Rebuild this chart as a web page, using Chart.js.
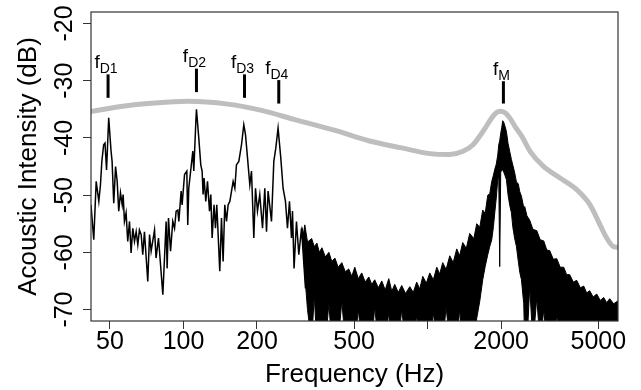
<!DOCTYPE html>
<html>
<head>
<meta charset="utf-8">
<script src="https://cdn.jsdelivr.net/npm/chart.js@4.4.1/dist/chart.umd.min.js"></script>
<style>
  html, body { margin: 0; padding: 0; background: #fff; }
  canvas { display: block; }
</style>
</head>
<body>
<canvas id="chart" width="641" height="390"></canvas>
<script>
// 軸の目盛り
const xTicks = [50, 100, 200, 500, 1000, 2000, 5000];
const xTickLabels = ["50", "100", "200", "500", "", "2000", "5000"];
const yTicks = [-20, -30, -40, -50, -60, -70];

// 低域のスペクトル（まばらな部分）
const specFreq = [41.8,42.9,43.9,45.0,45.7,46.3,47.1,47.7,48.4,49.4,
  50.5,51.0,51.8,52.7,53.5,54.3,55.2,56.1,56.6,57.3,
  58.2,59.1,60.1,61.0,62.0,63.0,64.0,65.0,66.0,67.1,
  68.1,69.2,71.4,72.6,73.7,76.1,77.2,79.0,82.3,84.9,
  85.7,86.8,88.5,90.4,91.9,93.3,94.8,95.7,97.8,98.7,
  101.0,103.2,104.1,105.1,109.2,110.2,112.4,113.0,115.5,117.7,
  119.2,120.3,121.4,123.4,125.4,127.8,129.4,131.0,133.4,135.2,
  136.9,140.8,143.1,145.3,147.6,150.0,152.3,154.8,157.3,159.7,
  162.3,164.8,168.5,172.8,176.6,179.4,182.9,186.9,189.9,194.1,
  197.2,200.9,205.3,210.7,215.3,218.8,222.1,229.3,234.4,238.8,
  244.0,250.3,255.8,261.6,266.6,271.7,276.9,279.5,283.7,290.2,
  296.7,304.3,316.0];
const specDb = [-51.7,-57.8,-47.6,-51.1,-48.2,-44.1,-41.2,-40.9,-45.6,-36.5,
  -42.3,-44.1,-51.4,-45.0,-47.6,-52.8,-49.6,-51.7,-49.9,-54.6,
  -53.1,-58.1,-54.6,-60.1,-55.8,-58.1,-56.4,-58.7,-56.1,-56.9,
  -60.4,-56.4,-65.1,-56.9,-59.8,-56.1,-61.0,-57.5,-67.4,-54.6,
  -62.8,-54.0,-59.8,-54.6,-55.8,-52.8,-52.6,-54.6,-49.3,-51.7,
  -46.4,-45.8,-55.2,-48.8,-42.3,-45.8,-37.0,-35.0,-40.0,-44.7,
  -45.8,-49.9,-47.0,-51.1,-47.6,-52.8,-49.9,-57.5,-51.7,-55.8,
  -51.7,-63.3,-54.0,-61.6,-51.7,-54.6,-51.7,-51.1,-49.3,-47.6,
  -48.8,-44.7,-44.1,-41.2,-37.7,-39.4,-43.5,-48.2,-45.8,-57.5,
  -48.8,-52.8,-49.9,-55.8,-48.8,-56.4,-49.3,-54.6,-44.1,-41.8,
  -38.3,-43.5,-48.8,-51.1,-55.8,-51.1,-57.5,-52.8,-62.8,-54.6,
  -60.4,-55.8,-66.3];

// 高域の密な部分（上端と下端）
const bandFreq = [305,310,314,322,335,343,352,360,369,381,
  394,405,417,430,445,460,475,489,503,520,
  537,555,574,590,607,628,649,670,693,713,
  733,758,783,812,845,873,902,928,955,988,
  1020,1055,1090,1120,1153,1190,1232,1272,1316,1352,
  1392,1440,1487,1545,1589,1635,1681,1720,1763,1796,
  1830,1860,1883,1910,1937,1955,1973,1992,2011,2030,
  2050,2075,2102,2135,2169,2204,2231,2270,2310,2350,
  2384,2422,2475,2498,2550,2619,2700,2798,2890,2989,
  3075,3162,3270,3379,3490,3608,3710,3818,3950,4079,
  4220,4358,4480,4611,4760,4927,5090,5262,5410,5568,
  5780,6005,6100];
const bandTop = [-55.5,-56.8,-55.2,-58.2,-57.6,-59.0,-58.4,-60.0,-59.2,-60.8,
  -60.0,-61.6,-61.0,-62.6,-61.8,-63.4,-62.9,-64.2,-62.6,-64.6,
  -63.6,-65.2,-64.3,-65.6,-64.8,-66.2,-65.0,-66.6,-64.6,-66.8,
  -65.6,-67.0,-65.8,-67.2,-66.0,-67.0,-65.2,-66.4,-64.2,-65.4,
  -63.6,-64.8,-62.6,-63.8,-61.8,-63.0,-60.6,-61.8,-59.4,-60.6,
  -58.3,-59.3,-56.7,-57.6,-55.0,-55.6,-52.6,-53.2,-50.0,-49.8,
  -47.6,-46.5,-45.5,-44.6,-43.0,-41.2,-40.5,-39.2,-38.2,-37.0,
  -37.3,-38.0,-38.9,-41.0,-42.4,-43.8,-44.7,-46.0,-47.7,-48.0,
  -49.4,-50.2,-52.2,-52.0,-53.6,-54.4,-56.0,-56.2,-57.8,-58.0,
  -59.6,-59.7,-61.2,-61.1,-62.6,-62.6,-63.9,-63.9,-65.2,-64.9,
  -66.2,-65.9,-67.1,-66.7,-67.8,-67.3,-68.4,-67.9,-68.8,-68.1,
  -69.0,-68.5,-69.2];
const bandBottom = [-56.5,-60,-64,-70,-76,-67.5,-76,-76,-76,-76,
  -69,-76,-76,-76,-68.5,-76,-76,-76,-76,-70,
  -76,-76,-76,-76,-69.5,-76,-76,-76,-70.5,-76,
  -76,-76,-70,-76,-76,-76,-71,-76,-76,-76,
  -76,-70.5,-76,-76,-76,-69.5,-76,-76,-76,-70,
  -76,-76,-76,-76,-71.5,-68.5,-64.8,-62.5,-60.4,-59.0,
  -57.8,-55.5,-53.1,-50.5,-47.3,-46.5,-62.5,-46.0,-45.6,-45.6,
  -46.0,-46.6,-47.3,-50.0,-51.8,-53.1,-55.5,-57.5,-59.0,-61.5,
  -63.5,-64.8,-69.0,-76,-76,-66,-76,-68,-76,-70,
  -76,-76,-76,-71,-76,-76,-76,-76,-76,-76,
  -76,-76,-76,-76,-76,-76,-76,-76,-76,-76,
  -76,-76,-76];

// 灰色の包絡線
const grayFreq = [41.8,55.5,76.1,104.1,151.9,208.7,285.6,417.8,572.3,783.4,
  1020,1232,1396,1534,1687,1853,1925,2005,2087,2169,
  2310,2428,2627,2981,3485,4079,4624,5082,5413,5767,6020];
const grayDb = [-35.4,-34.5,-33.9,-33.6,-34.1,-35.2,-36.8,-38.7,-40.5,-41.75,
  -42.75,-42.9,-42.35,-41.2,-38.85,-36.2,-35.5,-35.35,-35.7,-36.5,
  -38.4,-39.7,-42.35,-44.97,-47.0,-49.05,-51.7,-55.2,-57.5,-59.0,-59.1];

// ピークの注記
const markSub = ["D1", "D2", "D3", "D4", "M"];
const markFreq = [49.1, 113.0, 177.8, 245.6, 2043];
const markTop = [-28.9, -27.9, -28.9, -29.9, -30.1];
const markBottom = [-33.0, -32.0, -33.0, -34.0, -34.0];

const FONT = '"Liberation Sans", Arial, Helvetica, sans-serif';

const toPoints = (xs, ys) => xs.map((x, i) => ({ x: x, y: ys[i] }));

// 枠・Y軸ラベル・タイトル・注記を描く
const overlay = {
  id: "overlay",
  afterDraw(chart) {
    const { ctx, chartArea: a, scales } = chart;
    const xs = scales.x, ys = scales.y;
    ctx.save();

    ctx.strokeStyle = "#333";
    ctx.lineWidth = 1.2;
    ctx.strokeRect(a.left, a.top, a.right - a.left, a.bottom - a.top);

    ctx.fillStyle = "#000";
    ctx.font = "25px " + FONT;
    ctx.textAlign = "center";
    ctx.textBaseline = "alphabetic";
    yTicks.forEach(v => {
      ctx.save();
      ctx.translate(71.5, ys.getPixelForValue(v));
      ctx.rotate(-Math.PI / 2);
      ctx.fillText(String(v), 0, 0);
      ctx.restore();
    });

    ctx.font = "26px " + FONT;
    ctx.save();
    ctx.translate(35.5, (a.top + a.bottom) / 2);
    ctx.rotate(-Math.PI / 2);
    ctx.fillText("Acoustic Intensity (dB)", 0, 0);
    ctx.restore();
    ctx.fillText("Frequency (Hz)", (a.left + a.right) / 2, 382);

    // 注記の縦線とラベル
    markFreq.forEach((f, i) => {
      const px = xs.getPixelForValue(f);
      const y1 = ys.getPixelForValue(markTop[i]);
      const y2 = ys.getPixelForValue(markBottom[i]);
      ctx.strokeStyle = "#000";
      ctx.lineWidth = 3;
      ctx.beginPath();
      ctx.moveTo(px, y1);
      ctx.lineTo(px, y2);
      ctx.stroke();

      ctx.textAlign = "left";
      ctx.font = "19px " + FONT;
      const wf = ctx.measureText("f").width;
      ctx.font = "14px " + FONT;
      const ws = ctx.measureText(markSub[i]).width;
      const x0 = px - 2 - (wf + ws) / 2;
      const base = y1 - 6.5;
      ctx.font = "19px " + FONT;
      ctx.fillText("f", x0, base);
      ctx.font = "14px " + FONT;
      ctx.fillText(markSub[i], x0 + wf, base + 5);
    });

    ctx.restore();
  }
};

new Chart(document.getElementById("chart"), {
  type: "line",
  data: {
    datasets: [
      {
        data: toPoints(grayFreq, grayDb),
        borderColor: "#bebebe",
        borderWidth: 5,
        cubicInterpolationMode: "monotone",
        pointRadius: 0,
        fill: false
      },
      {
        data: toPoints(specFreq, specDb),
        borderColor: "#000",
        borderWidth: 1.5,
        pointRadius: 0,
        fill: false
      },
      {
        data: toPoints(bandFreq, bandTop),
        borderColor: "#000",
        borderWidth: 1,
        backgroundColor: "#000",
        pointRadius: 0,
        fill: "+1"
      },
      {
        data: toPoints(bandFreq, bandBottom),
        borderColor: "#000",
        borderWidth: 1,
        pointRadius: 0,
        fill: false
      }
    ]
  },
  options: {
    responsive: false,
    animation: false,
    layout: { padding: { left: 0, right: 23, top: 12, bottom: 0 } },
    plugins: { legend: { display: false }, tooltip: { enabled: false } },
    scales: {
      x: {
        type: "logarithmic",
        min: 41.8,
        max: 6020,
        afterBuildTicks: s => { s.ticks = xTicks.map(v => ({ value: v })); },
        afterFit: s => { s.height = 69; },
        border: { display: false },
        grid: { drawOnChartArea: false, drawTicks: true, tickLength: 8, color: "#333" },
        ticks: {
          autoSkip: false,
          maxRotation: 0,
          padding: -2,
          color: "#000",
          font: { family: FONT, size: 25 },
          callback: (v, i) => xTickLabels[i]
        }
      },
      y: {
        type: "linear",
        min: -72,
        max: -18,
        afterBuildTicks: s => { s.ticks = yTicks.map(v => ({ value: v })); },
        afterFit: s => { s.width = 91; },
        border: { display: false },
        grid: { drawOnChartArea: false, drawTicks: true, tickLength: 8, color: "#333" },
        ticks: { display: false }
      }
    }
  },
  plugins: [overlay]
});
</script>
</body>
</html>
